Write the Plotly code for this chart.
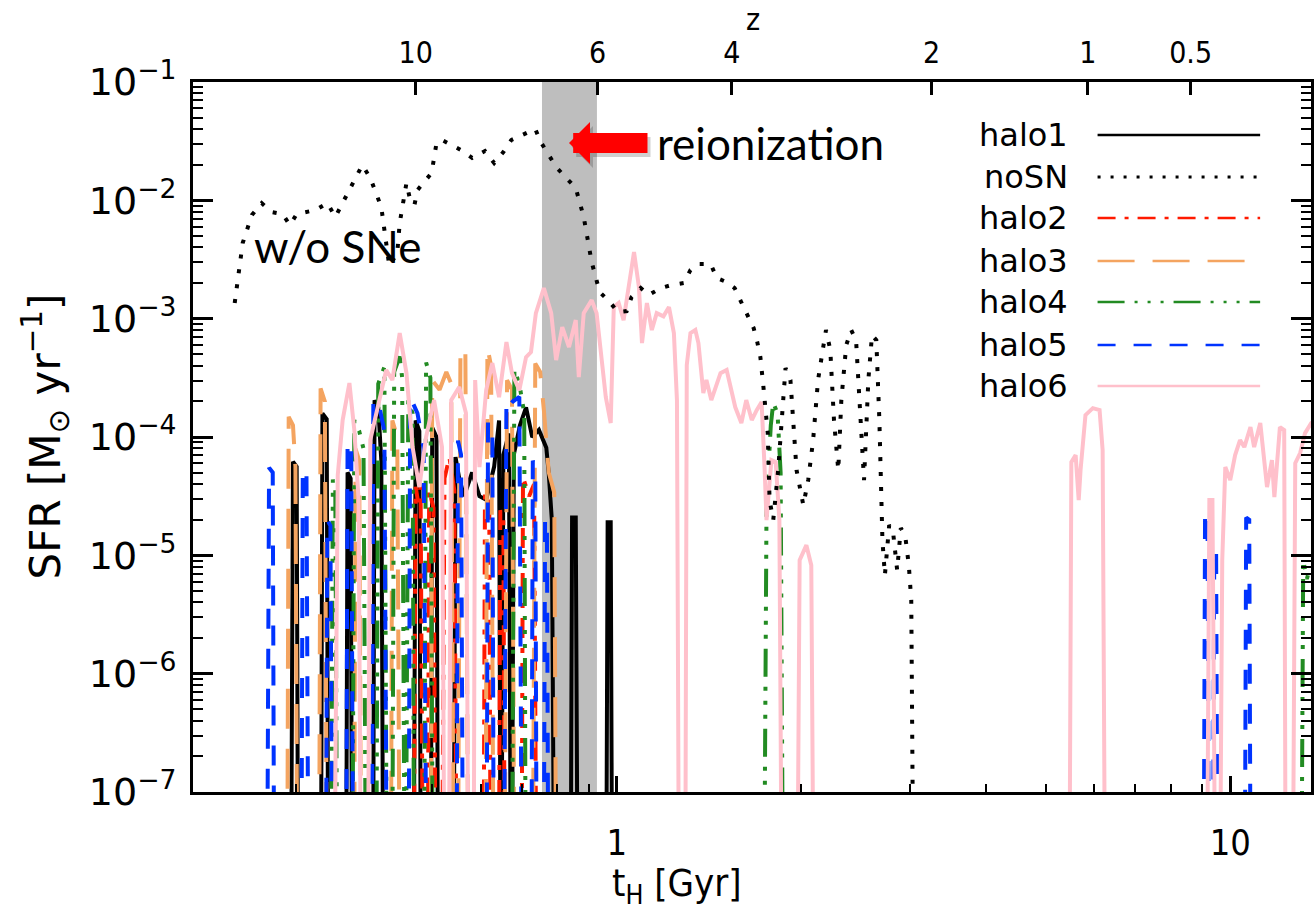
import plotly.graph_objects as go

# ---------------- data (log10 t[Gyr], log10 SFR[Msun/yr]); None = no star formation ----------------
ZERO = 1e-9

reion_t = [0.755, 0.928]           # reionization band (Gyr)

z_labels = ["10", "6", "4", "2", "1", "0.5"]
z_age = [0.47, 0.93, 1.54, 3.26, 5.86, 8.62]   # cosmic age at those z (Gyr)

x_ticks = [1, 10]
y_exps = [-1, -2, -3, -4, -5, -6, -7]

noSN_logt = [-0.623, -0.610, -0.595, -0.579, -0.563, -0.545, -0.533, -0.522, -0.491, -0.472,
             -0.459, -0.447, -0.415, -0.402, -0.384, -0.371, -0.358, -0.354, -0.343, -0.338,
             -0.330, -0.325, -0.302, -0.294, -0.285, -0.254, -0.236, -0.215, -0.200, -0.185,
             -0.172, -0.133, -0.124, -0.099, -0.067, -0.054, -0.041, -0.028, -0.013, 0.002,
             0.016, 0.024, 0.039, 0.052, 0.072, 0.089, 0.109, 0.120, 0.133, 0.153,
             0.163, 0.179, 0.192, 0.202, 0.213, 0.223, 0.229, 0.234, 0.239, 0.244,
             0.246, 0.249, 0.255, 0.263, 0.275, 0.283, 0.293, 0.304, 0.312, 0.320,
             0.328, 0.337, 0.341, 0.348, 0.354, 0.361, 0.366, 0.374, 0.382, 0.390,
             0.397, 0.403, 0.410, 0.416, 0.423, 0.428, 0.433, 0.437, 0.444, 0.450,
             0.457, 0.463, 0.470, 0.476, 0.480, 0.485]
noSN_logsfr = [-2.868, -2.361, -2.124, -2.023, -2.099, -2.116, -2.209, -2.116, -2.082, -2.023,
               -2.141, -2.023, -1.702, -1.811, -2.057, -2.555, -2.445, -2.192, -1.854, -1.972,
               -2.040, -1.913, -1.769, -1.516, -1.490, -1.575, -1.642, -1.583, -1.685, -1.592,
               -1.490, -1.397, -1.507, -1.719, -1.896, -2.141, -2.522, -2.775, -2.851, -2.944,
               -2.936, -2.817, -2.741, -2.800, -2.741, -2.716, -2.699, -2.589, -2.538, -2.538,
               -2.657, -2.691, -2.741, -2.851, -2.961, -3.079, -3.198, -3.325, -3.578, -3.840,
               -3.967, -4.533, -4.702, -4.280, -3.418, -3.519, -4.280, -4.576, -4.364, -4.026,
               -3.519, -3.223, -3.096, -3.265, -3.857, -4.280, -3.688, -3.223, -3.096, -3.181,
               -3.857, -4.364, -3.519, -3.139, -3.181, -3.857, -4.872, -5.167, -4.745, -4.787,
               -5.125, -4.770, -4.829, -5.083, -5.379, None]

halo1_pts = [(-0.532, None), (-0.528, -4.21), (-0.522, -4.25), (-0.519, None),
             (-0.483, None), (-0.480, -3.80), (-0.473, -3.85), (-0.470, None),
             (-0.442, None), (-0.439, -4.30), (-0.434, -4.35), (-0.431, None),
             (-0.398, None), (-0.395, -3.69), (-0.389, -3.75), (-0.384, -4.20), (-0.380, None),
             (-0.332, None), (-0.328, -3.86), (-0.322, -3.95), (-0.319, None),
             (-0.304, None), (-0.301, -3.92), (-0.294, -4.00), (-0.291, None),
             (-0.267, None), (-0.263, -4.17), (-0.257, -4.35), (-0.249, -4.50), (-0.236, -4.30),
             (-0.224, -4.50), (-0.213, -4.53), (-0.200, -4.25), (-0.192, -3.86), (-0.189, None),
             (-0.185, -4.15), (-0.176, -3.97), (-0.172, None), (-0.168, -4.15), (-0.158, -3.90),
             (-0.148, -3.75), (-0.138, -4.00), (-0.127, -3.94), (-0.115, -4.09), (-0.111, -4.31),
             (-0.106, -4.70), (-0.101, None),
             (-0.076, None), (-0.073, -4.68), (-0.067, -4.68), (-0.063, None),
             (-0.018, None), (-0.015, -4.72), (-0.010, -4.72), (-0.007, None)]

halo2_pts = [(-0.332, None), (-0.328, -4.42), (-0.324, -4.55), (-0.320, -4.42), (-0.315, None),
             (-0.309, None), (-0.306, -4.45), (-0.299, -4.60), (-0.294, None),
             (-0.286, None), (-0.281, -4.35), (-0.273, -4.17), (-0.265, -4.45), (-0.260, None),
             (-0.218, None), (-0.215, -4.47), (-0.208, -4.55), (-0.205, None),
             (-0.193, None), (-0.190, -4.62), (-0.185, -4.70), (-0.182, None),
             (-0.156, None), (-0.153, -4.34), (-0.143, -4.50), (-0.135, -4.40), (-0.130, None)]

halo3_pts = [(-0.538, None), (-0.535, -3.83), (-0.528, -3.90), (-0.524, -4.25), (-0.520, None),
             (-0.486, None), (-0.483, -3.59), (-0.476, -3.70), (-0.472, None),
             (-0.429, None), (-0.426, -4.10), (-0.420, -4.20), (-0.416, None),
             (-0.369, None), (-0.366, -3.86), (-0.358, -4.00), (-0.353, None),
             (-0.304, None), (-0.301, -3.52), (-0.289, -3.60), (-0.278, -3.45), (-0.270, -3.55), (-0.265, None),
             (-0.260, None), (-0.255, -3.30), (-0.247, -3.24), (-0.241, None),
             (-0.215, None), (-0.211, -3.24), (-0.205, -3.40), (-0.200, None),
             (-0.184, None), (-0.179, -3.52), (-0.171, -3.60), (-0.166, None),
             (-0.138, None), (-0.133, -3.38), (-0.125, -3.45), (-0.119, -3.77), (-0.111, -4.30),
             (-0.102, -4.47), (-0.098, None)]

halo4_pts = [(-0.467, None), (-0.463, -4.36), (-0.459, -4.45), (-0.455, None),
             (-0.432, None), (-0.428, -3.86), (-0.420, -3.95), (-0.413, -4.10), (-0.408, None),
             (-0.393, None), (-0.389, -3.55), (-0.379, -3.41), (-0.374, None),
             (-0.367, None), (-0.363, -3.45), (-0.354, -3.32), (-0.350, -3.50), (-0.346, None),
             (-0.345, None), (-0.340, -3.69), (-0.333, -3.80), (-0.330, None),
             (-0.315, None), (-0.311, -3.37), (-0.304, -3.50), (-0.299, None),
             (-0.172, None), (-0.167, -3.43), (-0.159, -3.55), (-0.151, -3.80), (-0.148, None),
             (0.239, None), (0.244, -4.60), (0.251, -3.90), (0.255, -3.71), (0.262, -3.80),
             (0.267, -4.30), (0.272, None),
             (1.115, None), (1.119, -5.04), (1.125, -5.20), (1.130, -5.10), (1.140, -5.10)]

halo5_pts = [(-0.571, None), (-0.567, -4.26), (-0.561, -4.30), (-0.558, None),
             (-0.515, None), (-0.512, -4.26), (-0.506, -4.30), (-0.502, None),
             (-0.475, None), (-0.472, -4.70), (-0.467, -4.75), (-0.463, None),
             (-0.442, None), (-0.439, -4.03), (-0.433, -4.10), (-0.429, None),
             (-0.400, None), (-0.397, -3.67), (-0.387, -3.75), (-0.379, -3.95), (-0.374, None),
             (-0.340, None), (-0.337, -3.66), (-0.325, -3.80), (-0.315, -4.10), (-0.309, None),
             (-0.262, None), (-0.259, -4.03), (-0.254, -4.15), (-0.250, None),
             (-0.213, None), (-0.210, -3.86), (-0.203, -3.95), (-0.200, None),
             (-0.185, None), (-0.180, -3.65), (-0.169, -3.70), (-0.159, -3.66), (-0.154, None),
             (-0.140, None), (-0.137, -4.20), (-0.133, -4.25), (-0.130, None),
             (-0.120, None), (-0.117, -4.68), (-0.114, -4.75), (-0.111, None),
             (0.956, None), (0.959, -4.62), (0.963, -4.65), (0.966, None),
             (0.971, None), (0.974, -4.93), (0.977, -4.95), (0.980, None),
             (1.023, None), (1.026, -4.68), (1.031, -4.70), (1.034, None)]

halo6_pts = [(-0.462, None), (-0.455, -4.322), (-0.447, -3.857), (-0.436, -3.544), (-0.428, -3.942),
             (-0.421, -4.533), (-0.416, None), (-0.407, None), (-0.402, -4.026), (-0.387, -3.688),
             (-0.376, -3.434), (-0.366, -3.519), (-0.354, -3.122), (-0.343, -3.460), (-0.333, -4.085),
             (-0.322, -4.423), (-0.311, -4.001), (-0.298, -3.688), (-0.285, -4.085), (-0.280, None),
             (-0.275, None), (-0.270, -3.688), (-0.257, -3.578), (-0.246, -3.798), (-0.241, None),
             (-0.234, None), (-0.231, -3.519), (-0.224, -4.254), (-0.213, -3.604), (-0.203, -3.375),
             (-0.192, -3.663), (-0.180, -3.198), (-0.171, -3.460), (-0.159, -3.604), (-0.148, -3.325),
             (-0.140, -3.282), (-0.132, -2.953), (-0.119, -2.741), (-0.107, -2.953), (-0.099, -3.350),
             (-0.089, -3.071), (-0.078, -3.240), (-0.067, -3.012), (-0.062, -3.494), (-0.054, -2.953),
             (-0.041, -2.843), (-0.033, -2.953), (-0.018, -3.663), (-0.010, -3.882), (-0.005, -2.902),
             (0.003, -2.868), (0.011, -3.012), (0.028, -2.437), (0.036, -2.733), (0.041, -3.206),
             (0.049, -2.868), (0.057, -3.096), (0.065, -2.953), (0.076, -2.980), (0.085, -2.902),
             (0.093, -3.122), (0.098, -3.688), (0.102, None), (0.111, None), (0.114, -3.392),
             (0.120, -3.122), (0.128, -3.096), (0.133, -3.206), (0.141, -3.629), (0.146, -3.519),
             (0.154, -3.688), (0.169, -3.460), (0.179, -3.434), (0.193, -3.747), (0.203, -3.882),
             (0.211, -3.688), (0.220, -3.857), (0.228, -3.773), (0.236, -3.705), (0.241, -4.280),
             (0.244, -4.702), (0.252, -4.195), (0.259, -4.212), (0.265, -4.702), (0.270, None),
             (0.293, None), (0.298, -5.041), (0.309, -4.914), (0.317, -5.083), (0.322, None),
             (0.737, None), (0.741, -4.212), (0.748, -4.153), (0.753, -4.533), (0.756, -4.280),
             (0.764, -3.815), (0.776, -3.756), (0.787, -3.773), (0.792, -4.110), (0.797, None),
             (0.961, None), (0.966, -4.533), (0.971, -4.533), (0.977, None), (0.982, None),
             (0.987, -5.041), (0.992, -4.254), (1.000, -4.364), (1.008, -4.153), (1.016, -4.026),
             (1.023, -4.085), (1.033, -3.916), (1.039, -4.085), (1.049, -3.882), (1.060, -4.423),
             (1.068, -4.195), (1.072, -4.508), (1.081, -3.916), (1.088, -3.942), (1.091, None),
             (1.101, None), (1.106, -4.221), (1.114, -4.136), (1.122, -3.967), (1.132, -3.882),
             (1.140, -3.850)]

series_names = ["halo1", "noSN", "halo2", "halo3", "halo4", "halo5", "halo6"]
series_colors = ["#000000", "#000000", "#ff1a00", "#f4a460", "#228b22", "#0033ff", "#ffc0cb"]
plot_width = [4, 4, 4, 4, 4, 4, 4]
plot_dash = ["solid", "4px,11px", "20px,10px,5px,10px", "40px,20px",
             "28px,10px,4px,10px,4px,10px,4px,10px", "20px,20px", "solid"]
legend_dash = ["solid", "3px,10px", "18px,9px,4px,9px", "37px,18px",
               "27px,10px,3px,10px,3px,10px,3px,10px", "18px,18px", "solid"]


def from_log(pairs):
    t = [10 ** a for a, b in pairs]
    s = [ZERO if b is None else 10 ** b for a, b in pairs]
    return t, s


curves = {
    "halo1": from_log(halo1_pts),
    "noSN": from_log(list(zip(noSN_logt, noSN_logsfr))),
    "halo2": from_log(halo2_pts),
    "halo3": from_log(halo3_pts),
    "halo4": from_log(halo4_pts),
    "halo5": from_log(halo5_pts),
    "halo6": from_log(halo6_pts),
}

fig = go.Figure()

# reionization band
fig.add_trace(go.Scatter(x=[reion_t[0], reion_t[0], reion_t[1], reion_t[1]],
                         y=[ZERO, 10, 10, ZERO], fill="toself", fillcolor="#bebebe",
                         line=dict(width=0, color="#bebebe"), mode="lines",
                         hoverinfo="skip", showlegend=False))

draw_order = ["halo1", "halo2", "halo3", "halo4", "halo5", "halo6", "noSN"]
for name in draw_order:
    i = series_names.index(name)
    t, s = curves[name]
    fig.add_trace(go.Scatter(x=t, y=s, mode="lines", name=name,
                             line=dict(color=series_colors[i], width=plot_width[i], dash=plot_dash[i]),
                             showlegend=False))

# invisible trace to carry the redshift axis
fig.add_trace(go.Scatter(x=z_age, y=[ZERO] * len(z_age), xaxis="x2", mode="markers",
                         marker=dict(opacity=0), hoverinfo="skip", showlegend=False))

x_range = [-0.691, 1.1317]
x_minor = [k / 10 for k in range(3, 10)] + list(range(2, 10))
y_minor = [m * 10 ** e for e in range(-8, -1) for m in range(2, 10)]

tick_font = dict(family="DejaVu Sans Condensed, DejaVu Sans", size=36, color="black")

fig.update_layout(
    width=1314, height=917,
    margin=dict(l=193, r=0, t=82, b=125),
    paper_bgcolor="white", plot_bgcolor="white",
    showlegend=False,
    xaxis=dict(type="log", range=x_range, tickvals=x_ticks, ticktext=[str(v) for v in x_ticks],
               ticks="inside", ticklen=16, tickwidth=2.5, tickcolor="black",
               showline=True, linecolor="black", linewidth=3, mirror=True,
               showgrid=False, zeroline=False, tickfont=tick_font, ticklabelstandoff=17,
               minor=dict(ticks="inside", ticklen=8, tickwidth=2, tickcolor="black",
                          tickvals=x_minor, showgrid=False)),
    xaxis2=dict(type="log", range=x_range, overlaying="x", side="top",
                tickvals=z_age, ticktext=z_labels, ticks="inside", ticklen=13, tickwidth=2.5,
                tickcolor="black", showline=False, showgrid=False, zeroline=False,
                tickfont=dict(family="DejaVu Sans Condensed, DejaVu Sans", size=30, color="black"),
                ticklabelstandoff=12),
    yaxis=dict(type="log", range=[-7, -1], tickvals=[10 ** e for e in y_exps],
               ticktext=["10<sup>\u2212%d</sup>" % (-e) for e in y_exps],
               ticks="inside", ticklen=20, tickwidth=2.5, tickcolor="black",
               showline=True, linecolor="black", linewidth=3, mirror="ticks",
               showgrid=False, zeroline=False,
               tickfont=dict(family="DejaVu Sans", size=38, color="black"), ticklabelstandoff=6,
               minor=dict(ticks="inside", ticklen=10, tickwidth=2, tickcolor="black",
                          tickvals=y_minor, showgrid=False)),
)


def px_x(px):
    return (px - 193) / 1121.0


def px_y(py):
    return (792 - py) / 710.0


def label(text, x, y, size, family="DejaVu Sans", xanchor="center", angle=0):
    return dict(text=text, x=px_x(x), y=px_y(y), xref="paper", yref="paper",
                xanchor=xanchor, yanchor="middle", showarrow=False, textangle=angle,
                font=dict(family=family, size=size, color="black"))


ann = []
# axis titles
ann.append(label("SFR [M<sub>\u2299</sub> yr<sup>\u22121</sup>]", 45, 436, 42, angle=-90))
ann.append(label("t<sub>H</sub> [Gyr]", 678, 885, 38, family="DejaVu Sans Condensed, DejaVu Sans"))
ann.append(label("z", 755, 20, 30, family="DejaVu Sans Condensed, DejaVu Sans"))
# text labels
ann.append(label("w/o SNe", 338, 246, 44, family="Lato"))
ann.append(label("reionization", 772, 143, 44, family="Lato"))
# arrow (shadow + arrow)
ann.append(dict(text="", x=px_x(573), y=px_y(147), xref="paper", yref="paper",
                ax=80, ay=0, showarrow=True, arrowhead=1, arrowwidth=20, arrowsize=0.35,
                arrowcolor="rgba(0,0,0,0.18)", standoff=0))
ann.append(dict(text="", x=px_x(570), y=px_y(143), xref="paper", yref="paper",
                ax=80, ay=0, showarrow=True, arrowhead=1, arrowwidth=20, arrowsize=0.35,
                arrowcolor="#ff0000", standoff=0))

# legend (text on the left, line sample on the right)
row_y = [135, 177, 218, 261, 302, 345, 386]
shapes = []
for i, name in enumerate(series_names):
    ann.append(label(name, 1072, row_y[i], 32, xanchor="right"))
    shapes.append(dict(type="line", xref="paper", yref="paper",
                       x0=px_x(1100), x1=px_x(1263), y0=px_y(row_y[i]), y1=px_y(row_y[i]),
                       line=dict(color=series_colors[i], width=3 if name == "noSN" else 2.5,
                                 dash=legend_dash[i])))

fig.update_layout(annotations=ann, shapes=shapes)

fig.write_html("out.html")
